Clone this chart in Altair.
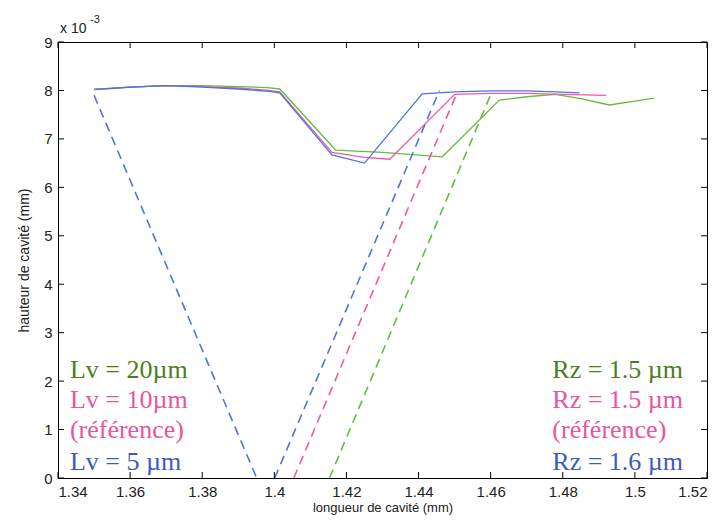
import altair as alt
import pandas as pd

# ---- data (y in units of 1e-3 mm) ----
green_x = [1.350, 1.355, 1.360, 1.370, 1.380, 1.390, 1.398, 1.4015, 1.417, 1.430, 1.4466, 1.4624, 1.470, 1.478, 1.485, 1.4929, 1.500, 1.5053]
green_y = [8.02, 8.04, 8.07, 8.10, 8.10, 8.08, 8.06, 8.03, 6.77, 6.72, 6.63, 7.80, 7.87, 7.92, 7.83, 7.70, 7.78, 7.84]

pink_x = [1.350, 1.360, 1.370, 1.380, 1.390, 1.3985, 1.4015, 1.416, 1.425, 1.432, 1.450, 1.460, 1.470, 1.480, 1.492]
pink_y = [8.02, 8.07, 8.10, 8.08, 8.05, 8.00, 7.97, 6.72, 6.62, 6.58, 7.92, 7.94, 7.94, 7.92, 7.90]

blue_x = [1.350, 1.360, 1.370, 1.380, 1.390, 1.3985, 1.4015, 1.416, 1.425, 1.441, 1.450, 1.460, 1.470, 1.478, 1.4846]
blue_y = [8.02, 8.07, 8.10, 8.07, 8.03, 7.98, 7.95, 6.67, 6.50, 7.93, 7.97, 7.99, 7.99, 7.97, 7.95]

blue_dash1_x = [1.350, 1.3951]
blue_dash1_y = [7.90, 0.0]
blue_dash2_x = [1.4001, 1.4458]
blue_dash2_y = [0.0, 8.00]
pink_dash_x = [1.4054, 1.4505]
pink_dash_y = [0.0, 7.92]
green_dash_x = [1.4153, 1.4605]
green_dash_y = [0.0, 8.00]

x_ticks = [1.34, 1.36, 1.38, 1.40, 1.42, 1.44, 1.46, 1.48, 1.50, 1.52]
y_ticks = [0, 1, 2, 3, 4, 5, 6, 7, 8, 9]

left_labels = ["Lv = 20µm", "Lv = 10µm", "(référence)", "Lv = 5 µm"]
right_labels = ["Rz = 1.5 µm", "Rz = 1.5 µm", "(référence)", "Rz = 1.6 µm"]
label_groups = ["g", "p", "p", "b"]
label_y = [2.06, 1.445, 0.83, 0.165]

groups = ["g", "p", "b"]
line_colors = ["#5fbf3c", "#ee5aa6", "#4f74dc"]
text_colors = ["#4e7d1c", "#e8559e", "#3b5cc0"]


def frame(xs, ys, series, group):
    return pd.DataFrame({"x": xs, "y": ys, "series": series, "group": group})


solid = pd.concat([
    frame(green_x, green_y, "g", "g"),
    frame(pink_x, pink_y, "p", "p"),
    frame(blue_x, blue_y, "b", "b"),
])
dashed = pd.concat([
    frame(green_dash_x, green_dash_y, "gd", "g"),
    frame(pink_dash_x, pink_dash_y, "pd", "p"),
    frame(blue_dash1_x, blue_dash1_y, "bd1", "b"),
    frame(blue_dash2_x, blue_dash2_y, "bd2", "b"),
])

W, H = 649, 436
xs = alt.Scale(domain=[1.34, 1.52], nice=False, zero=False)
ys = alt.Scale(domain=[0, 9], nice=False)
cs = alt.Scale(domain=groups, range=line_colors)
ts = alt.Scale(domain=groups, range=text_colors)

base_axis_x = alt.Axis(values=x_ticks, format="~g", ticks=False, tickSize=0, grid=False,
                       labelPadding=6, title="longueur de cavité (mm)", titlePadding=2,
                       titleFontSize=13)
base_axis_y = alt.Axis(values=y_ticks, ticks=False, tickSize=0, grid=False,
                       labelPadding=6, title="hauteur de cavité (mm)", titlePadding=12)

solid_layer = alt.Chart(solid).mark_line(strokeWidth=1.3).encode(
    x=alt.X("x:Q", scale=xs, axis=base_axis_x),
    y=alt.Y("y:Q", scale=ys, axis=base_axis_y),
    color=alt.Color("group:N", scale=cs, legend=None),
    detail="series:N",
    order=alt.Order("x:Q"),
)

dashed_layer = alt.Chart(dashed).mark_line(strokeWidth=1.6, strokeDash=[9, 6]).encode(
    x=alt.X("x:Q", scale=xs),
    y=alt.Y("y:Q", scale=ys),
    color=alt.Color("group:N", scale=cs, legend=None),
    detail="series:N",
)

xt = pd.DataFrame({"v": x_ticks})
yt = pd.DataFrame({"v": y_ticks})
tick_bottom = alt.Chart(xt).mark_rule(color="black").encode(
    x=alt.X("v:Q", scale=xs), y=alt.value(H), y2=alt.value(H - 6))
tick_top = alt.Chart(xt).mark_rule(color="black").encode(
    x=alt.X("v:Q", scale=xs), y=alt.value(0), y2=alt.value(6))
tick_left = alt.Chart(yt).mark_rule(color="black").encode(
    y=alt.Y("v:Q", scale=ys), x=alt.value(0), x2=alt.value(6))
tick_right = alt.Chart(yt).mark_rule(color="black").encode(
    y=alt.Y("v:Q", scale=ys), x=alt.value(W - 6), x2=alt.value(W))

lab_left = pd.DataFrame({"t": left_labels, "g": label_groups, "y": label_y, "x": [1.3433] * 4})
lab_right = pd.DataFrame({"t": right_labels, "g": label_groups, "y": label_y, "x": [1.4771] * 4})

def text_layer(df):
    return alt.Chart(df).mark_text(font="Liberation Serif", fontSize=26, align="left",
                                   baseline="alphabetic").encode(
        x=alt.X("x:Q", scale=xs), y=alt.Y("y:Q", scale=ys), text="t:N",
        color=alt.Color("g:N", scale=ts, legend=None))

exp_main = alt.Chart(pd.DataFrame({"t": ["x 10"]})).mark_text(
    font="Liberation Sans", fontSize=14, align="left", baseline="alphabetic", color="#222").encode(
    text="t:N", x=alt.value(2), y=alt.value(-9))
exp_sup = alt.Chart(pd.DataFrame({"t": ["-3"]})).mark_text(
    font="Liberation Sans", fontSize=11, align="left", baseline="alphabetic", color="#222").encode(
    text="t:N", x=alt.value(32), y=alt.value(-19))

chart = alt.layer(
    solid_layer, dashed_layer, tick_bottom, tick_top, tick_left, tick_right,
    text_layer(lab_left), text_layer(lab_right), exp_main, exp_sup,
).resolve_scale(color="independent").properties(
    width=W, height=H,
    background="white",
    autosize=alt.AutoSizeParams(type="none"),
    padding={"left": 50, "top": 34, "right": 9, "bottom": 39},
).configure_view(stroke="black", strokeWidth=1).configure_axis(
    domainColor="black", labelColor="#222", labelFont="Liberation Sans", labelFontSize=15,
    titleFont="Liberation Sans", titleFontSize=14, titleFontWeight="normal", titleColor="#222",
)

chart.save("out.html", embed_options={"renderer": "svg", "actions": False})
